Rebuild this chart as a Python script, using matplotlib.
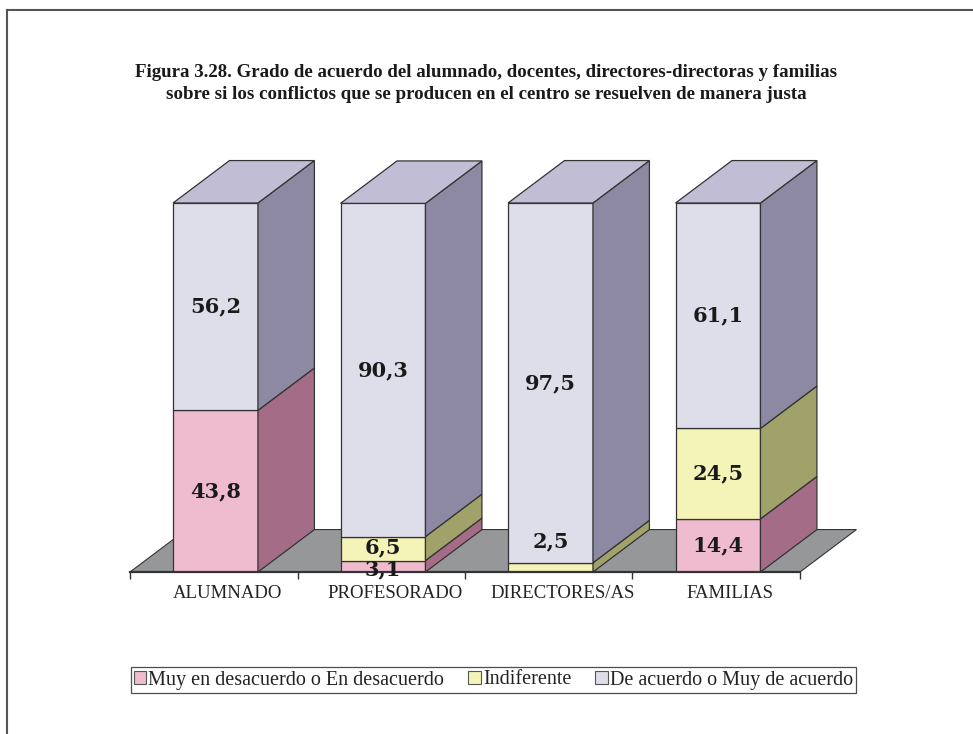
import matplotlib.pyplot as plt
from matplotlib.patches import Polygon, Patch
from matplotlib.lines import Line2D

categories = ["ALUMNADO", "PROFESORADO", "DIRECTORES/AS", "FAMILIAS"]
series_names = ["Muy en desacuerdo o En desacuerdo", "Indiferente",
                "De acuerdo o Muy de acuerdo"]
desacuerdo = [43.8, 3.1, 0.0, 14.4]
indiferente = [0.0, 6.5, 2.5, 24.5]
de_acuerdo = [56.2, 90.3, 97.5, 61.1]
series = [desacuerdo, indiferente, de_acuerdo]

title = ("Figura 3.28. Grado de acuerdo del alumnado, docentes, directores-directoras y familias\n"
         "sobre si los conflictos que se producen en el centro se resuelven de manera justa")

# front / side / top shades for each series
front_cols = ["#EFBCCF", "#F4F4B8", "#DEDDEA"]
side_cols = ["#A56C87", "#A1A16A", "#8E89A3"]
top_cols = ["#D8A0B8", "#D6D69A", "#C0BDD4"]
floor_col = "#969799"
edge = "#333333"

# pseudo-3D depth offset (data units)
DX, DY = 0.337, 11.5
BAR_LEFT, BAR_W = 0.257, 0.507

# labels moved off their segment centre (series, category) -> shift
label_shift = {(1, 2): 7.0, (0, 1): -0.9, (1, 1): 0.4}

W, H = 973, 734
fig = plt.figure(figsize=(W / 100, H / 100), dpi=100)
px_x, px_y = 167.5, 3.69
x0, y0 = 130, 572
xmax, ymax = 4.45, 115
ax = fig.add_axes([x0 / W, (H - y0) / H, xmax * px_x / W, ymax * px_y / H])
ax.set_xlim(0, xmax)
ax.set_ylim(0, ymax)

n = len(categories)

# floor
floor = Polygon([(0, 0), (n, 0), (n + DX, DY), (DX, DY)], closed=True,
                facecolor=floor_col, edgecolor=edge, linewidth=0.8, zorder=1)
ax.add_patch(floor)

for i in range(n):
    left = i + BAR_LEFT
    right = left + BAR_W
    bottom = 0.0
    last_top = None
    last_s = None
    for s, vals in enumerate(series):
        v = vals[i]
        if v <= 0:
            continue
        top = bottom + v
        front = Polygon([(left, bottom), (right, bottom), (right, top), (left, top)],
                        closed=True, facecolor=front_cols[s], edgecolor=edge,
                        linewidth=0.9, zorder=3)
        side = Polygon([(right, bottom), (right + DX, bottom + DY),
                        (right + DX, top + DY), (right, top)],
                       closed=True, facecolor=side_cols[s], edgecolor=edge,
                       linewidth=0.9, zorder=3)
        ax.add_patch(front)
        ax.add_patch(side)
        ly = bottom + v / 2 + label_shift.get((s, i), 0.0)
        ax.text((left + right) / 2, ly, f"{v:.1f}".replace(".", ","),
                ha="center", va="center", fontsize=15, fontweight="bold",
                family="DejaVu Serif", color="#1a1a1a", zorder=6)
        bottom = top
        last_top, last_s = top, s
    if last_top is not None:
        lid = Polygon([(left, last_top), (right, last_top),
                       (right + DX, last_top + DY), (left + DX, last_top + DY)],
                      closed=True, facecolor=top_cols[last_s], edgecolor=edge,
                      linewidth=0.9, zorder=3)
        ax.add_patch(lid)

# category axis
for sp in ["top", "right", "left"]:
    ax.spines[sp].set_visible(False)
ax.spines["bottom"].set_bounds(0, n)
ax.spines["bottom"].set_linewidth(1.6)
ax.spines["bottom"].set_color("#333333")
ax.spines["bottom"].set_zorder(4)
ax.set_yticks([])
ax.set_xticks(range(n + 1))
ax.set_xticklabels([])
ax.tick_params(axis="x", which="major", direction="out", length=5, width=1,
               color="#333333")
ax.set_xticks([i + 0.5 + 0.084 for i in range(n)], minor=True)
ax.set_xticklabels(categories, minor=True, family="Liberation Serif",
                   fontsize=13.5, color="#222222")
ax.tick_params(axis="x", which="minor", length=0, pad=9)
ax.patch.set_alpha(0)

fig.text(0.5, 1 - 83.5 / H, title, ha="center", va="center", fontsize=13.6,
         fontweight="bold", family="Liberation Serif", linespacing=1.38,
         color="#1a1a1a")

handles = [Patch(facecolor=c, edgecolor="#555555", linewidth=0.8) for c in front_cols]
leg = fig.legend(handles, series_names, loc="center",
                 bbox_to_anchor=(493.5 / W, 1 - 680 / H), ncol=3,
                 frameon=True, fancybox=False, edgecolor="#222222",
                 prop={"family": "Liberation Serif", "size": 14.5},
                 handlelength=0.6, handleheight=0.6, handletextpad=0.12,
                 columnspacing=1.2, borderpad=0.15, borderaxespad=0)
leg.get_frame().set_linewidth(0.9)
for t in leg.get_texts():
    t.set_color("#222222")

# outer frame lines (top and left)
fig.add_artist(Line2D([7 / W, 7 / W], [0, 1 - 10 / H], transform=fig.transFigure,
                      color="#555555", linewidth=1.5))
fig.add_artist(Line2D([7 / W, 1], [1 - 10 / H, 1 - 10 / H], transform=fig.transFigure,
                      color="#555555", linewidth=1.5))

fig.savefig("out.png", dpi=100)
